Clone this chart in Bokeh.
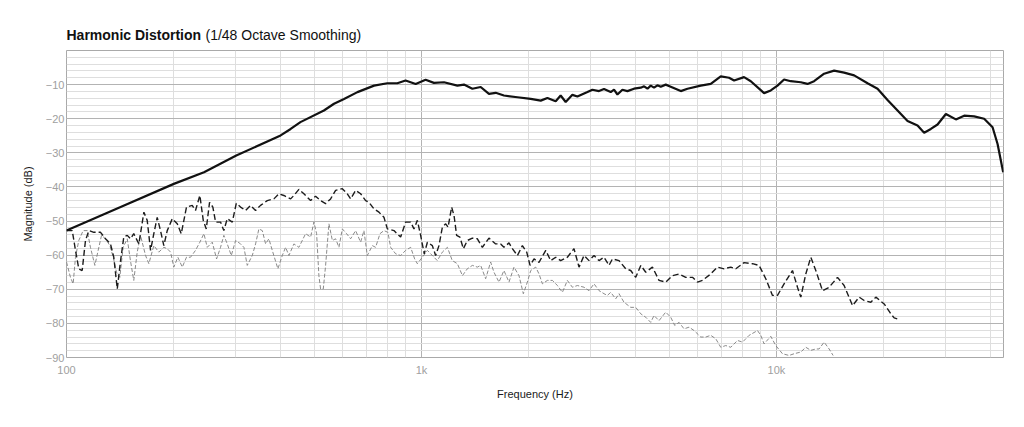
from bokeh.plotting import figure
from bokeh.models import Range1d, FixedTicker, Title
from bokeh.embed import file_html
from bokeh.resources import INLINE

FONT = "Liberation Sans"

# ---- data ----
h1_freq = [100, 141, 200.6, 244, 300.8, 401, 428, 456, 531, 567, 605, 660, 735, 801, 855, 902, 963,
           1027, 1084, 1157, 1262, 1317, 1391, 1468, 1549, 1618, 1707, 1863, 2031, 2167, 2263, 2388,
           2466, 2548, 2661, 2749, 2934, 3030, 3163, 3267, 3412, 3486, 3564, 3681, 3803, 3969, 4147,
           4237, 4331, 4423, 4519, 4619, 4720, 4875, 5036, 5375, 5614, 6118, 6528, 6966, 7353, 7596,
           8103, 8465, 9226, 9636, 10065, 10505, 10970, 11708, 12229, 12762, 13620, 14533, 15508,
           16548, 18052, 19260, 20550, 21928, 23398, 24967, 26057, 27217, 28427, 30003, 32008, 33781,
           36049, 38459, 40616, 41956, 43510]
h1_db = [-52.8, -46, -39.1, -35.7, -30.8, -24.9, -23.0, -21.0, -17.6, -15.6, -14.2, -12.2, -10.3, -9.6,
         -9.6, -8.8, -9.8, -8.6, -9.5, -9.3, -10.3, -10.0, -11.2, -10.7, -12.7, -12.4, -13.2, -13.7,
         -14.2, -14.7, -13.9, -14.9, -13.2, -15.1, -13.0, -13.5, -12.2, -11.5, -11.9, -11.3, -12.2,
         -11.5, -12.9, -11.5, -11.9, -11.2, -10.9, -10.5, -11.2, -10.3, -10.9, -10.2, -10.6, -10.0,
         -10.6, -11.9, -11.2, -10.3, -9.8, -7.6, -8.0, -8.8, -7.8, -9.0, -12.5, -11.7, -10.3, -8.5,
         -9.0, -9.3, -9.8, -9.0, -6.8, -5.9, -6.5, -7.3, -9.6, -11.2, -14.5, -17.6, -20.7, -22.0,
         -24.1, -23.0, -21.7, -18.6, -20.2, -19.1, -19.3, -20.0, -22.5, -27.4, -35.7]

h2_freq = [100, 103.8, 106.0, 108.3, 110.7, 113.1, 115.6, 119.4, 124.7, 128.8,
           133.0, 135.9, 139.0, 142.0, 145.0, 148.3, 151.4, 154.7, 159.9, 165.2,
           168.8, 172.5, 176.2, 180.1, 184.0, 188.0, 192.2, 198.6, 205.1, 210.5,
           217.8, 226.0, 230.9, 237.5, 242.8, 247.6, 252.9, 258.4, 263.0, 271.6,
           277.5, 283.7, 293.1, 300.8, 309.3, 319.5, 330.0, 340.9, 352.1, 367.8,
           383.9, 396.6, 409.6, 427.9, 437.1, 451.5, 466.4, 487.1, 503.1, 519.7,
           536.9, 554.6, 572.9, 598.3, 618.1, 631.5, 652.3, 673.8, 696.1, 711.2,
           734.6, 758.9, 783.9, 801.4, 836.5, 873.5, 902.3, 932.1, 952.3, 973.4,
           994.5, 1018, 1039, 1073, 1096, 1120, 1145, 1170, 1188, 1216,
           1235, 1256, 1283, 1312, 1346, 1391, 1437, 1484, 1549, 1618,
           1671, 1707, 1764, 1803, 1863, 1924, 1979, 2022, 2075, 2143,
           2239, 2312, 2388, 2466, 2576, 2689, 2778, 2870, 2964, 3062,
           3163, 3267, 3375, 3450, 3601, 3761, 3885, 4013, 4147, 4283,
           4472, 4668, 4875, 5092, 5316, 5552, 5799, 5990, 6188, 6528,
           6818, 7119, 7434, 7680, 8103, 8560, 8933, 9329, 9743, 10065,
           10505, 11093, 11459, 11708, 12094, 12493, 12905, 13478, 14070, 14857,
           15508, 16378, 17094, 17659, 18442, 19051, 20106, 20997, 21452, 21928]
h2_db = [-52.8, -52.8, -58.6, -64.0, -64.5, -55.7, -52.8, -53.3, -53.3, -55.2,
         -56.7, -60.6, -69.9, -61.6, -54.7, -54.2, -55.2, -53.7, -56.7, -47.4,
         -49.8, -58.6, -53.7, -48.9, -52.8, -57.2, -52.8, -49.3, -50.8, -53.7,
         -45.9, -45.4, -46.9, -42.5, -49.8, -52.3, -44.5, -45.9, -50.3, -50.3,
         -52.8, -49.3, -50.3, -44.8, -45.9, -46.9, -45.4, -46.9, -45.4, -44.0,
         -43.5, -42.0, -42.5, -43.5, -42.5, -40.7, -42.0, -44.0, -42.7, -44.0,
         -44.9, -43.5, -41.0, -40.5, -42.0, -43.5, -41.0, -42.0, -44.0, -44.5,
         -46.4, -47.4, -48.9, -52.3, -52.8, -54.7, -50.3, -50.3, -52.3, -49.8,
         -54.2, -59.6, -56.2, -57.2, -60.1, -57.2, -51.8, -50.8, -51.8, -45.9,
         -48.4, -54.2, -54.7, -58.1, -55.7, -55.0, -55.2, -57.7, -55.0, -56.7,
         -56.7, -57.7, -56.4, -58.1, -60.1, -57.2, -59.1, -63.0, -61.1, -62.1,
         -58.6, -61.6, -60.6, -61.6, -60.6, -58.1, -63.5, -60.1, -61.6, -60.1,
         -61.6, -60.6, -63.0, -61.1, -61.6, -64.0, -64.5, -66.5, -63.0, -65.0,
         -63.5, -67.4, -67.9, -66.0, -65.5, -66.5, -66.5, -67.9, -67.4, -65.5,
         -63.5, -64.0, -63.5, -64.0, -62.2, -62.5, -63.0, -66.9, -71.8, -71.8,
         -68.4, -64.5, -69.4, -72.3, -65.5, -60.6, -64.5, -70.4, -69.4, -66.5,
         -68.9, -74.8, -72.3, -73.3, -73.8, -72.3, -74.3, -77.2, -78.4, -78.7]

h3_freq = [100, 102.6, 104.4, 106.0, 108.3, 111.4, 114.4, 116.8, 120.2, 122.8,
           125.5, 128.8, 132.5, 135.4, 138.3, 141.3, 144.4, 148.3, 151.4, 154.7,
           158.2, 161.6, 167.0, 170.6, 176.2, 182.0, 188.0, 192.2, 196.4, 200.6,
           205.9, 211.9, 217.8, 223.6, 230.9, 237.5, 243.8, 249.2, 257.4, 264.7,
           271.6, 277.5, 283.7, 291.2, 299.5, 309.3, 316.0, 323.0, 333.7, 340.9,
           348.3, 356.1, 363.8, 371.6, 379.9, 394.0, 405.4, 414.2, 423.2, 437.1,
           451.5, 471.6, 487.1, 497.7, 506.5, 514.0, 519.7, 528.9, 536.9, 548.6,
           560.9, 572.9, 585.4, 598.3, 615.2, 631.5, 652.3, 673.8, 688.4, 703.7,
           727.0, 742.7, 763.9, 783.9, 804.3, 818.7, 845.6, 873.5, 902.3, 932.1,
           956.6, 973.4, 1005.6, 1039, 1073, 1108, 1145, 1183, 1221, 1262,
           1304, 1346, 1391, 1437, 1468, 1516, 1566, 1600, 1653, 1707,
           1764, 1822, 1882, 1936, 1987, 2031, 2098, 2143, 2191, 2263,
           2338, 2415, 2494, 2576, 2661, 2749, 2870, 2964, 3062, 3163,
           3267, 3340, 3412, 3525, 3601, 3719, 3885, 4013, 4147, 4283,
           4423, 4519, 4668, 4875, 5036, 5168, 5316, 5491, 5672, 5860,
           6118, 6321, 6528, 6744, 6966, 7196, 7434, 7766, 8020, 8374,
           8841, 9032, 9226, 9636, 9954, 10397, 10852, 11210, 11708, 12094,
           12493, 12905, 13183, 13620, 14070, 14439]
h3_db = [-62.0, -66.5, -68.4, -60.6, -55.7, -52.8, -52.8, -57.7, -63.0, -58.6,
         -54.2, -55.2, -57.2, -60.6, -65.0, -66.5, -57.7, -55.2, -61.6, -67.4,
         -59.1, -54.2, -60.1, -62.5, -57.2, -59.1, -57.7, -58.1, -59.1, -63.5,
         -60.6, -63.5, -60.6, -60.6, -58.6, -56.2, -53.7, -57.7, -56.2, -61.1,
         -57.7, -54.2, -56.7, -60.1, -55.7, -56.7, -57.7, -63.0, -60.1, -56.7,
         -52.3, -52.8, -56.7, -55.2, -58.6, -64.0, -60.1, -57.7, -60.1, -56.7,
         -57.7, -53.7, -54.7, -50.3, -53.7, -66.0, -69.9, -69.9, -63.0, -50.8,
         -55.7, -55.2, -57.7, -52.3, -53.7, -55.2, -52.8, -56.2, -52.8, -60.1,
         -57.2, -57.7, -53.7, -52.8, -53.3, -57.7, -59.6, -60.1, -58.6, -57.7,
         -61.1, -62.5, -60.6, -58.6, -60.1, -61.6, -59.1, -57.7, -61.6, -62.5,
         -66.0, -64.0, -63.0, -63.5, -63.0, -66.9, -62.0, -65.0, -67.9, -64.5,
         -67.9, -63.5, -66.0, -71.3, -67.9, -64.5, -63.5, -65.5, -68.4, -67.4,
         -67.4, -68.9, -70.9, -67.4, -69.4, -68.9, -69.4, -70.4, -68.4, -70.4,
         -71.3, -71.8, -70.9, -72.8, -71.3, -73.8, -75.3, -75.3, -77.2, -78.2,
         -79.7, -77.7, -79.2, -76.7, -78.2, -80.6, -79.7, -81.6, -81.1, -82.1,
         -84.0, -84.0, -83.5, -84.5, -87.0, -86.5, -87.0, -85.0, -85.5, -83.5,
         -82.1, -83.5, -86.0, -83.8, -86.5, -88.9, -89.4, -88.9, -88.4, -87.0,
         -87.9, -87.5, -87.5, -85.5, -87.5, -89.4]

x_ticks = [100, 1000, 10000]
x_tick_labels = ["100", "1k", "10k"]
x_minor = [200, 300, 400, 500, 600, 700, 800, 900,
           2000, 3000, 4000, 5000, 6000, 7000, 8000, 9000,
           20000, 30000, 40000]
x_limits = [100, 43600]
y_ticks = [-90, -80, -70, -60, -50, -40, -30, -20, -10]
y_minor = [v for v in range(-90, 1, 2)]
y_limits = [-90, 0]

title_main = "Harmonic Distortion"
title_sub = "(1/48 Octave Smoothing)"
x_label = "Frequency (Hz)"
y_label = "Magnitude (dB)"


def pairs(xs, ys):
    n = min(len(xs), len(ys))
    return list(xs[:n]), list(ys[:n])


p = figure(width=1008, height=411, x_axis_type="log",
           x_range=Range1d(*x_limits), y_range=Range1d(*y_limits),
           output_backend="svg", toolbar_location=None, title=title_main,
           min_border_left=66, min_border_right=5, min_border_top=50, min_border_bottom=54)

# main title (outer slot) pulled down onto the same line as the subtitle
p.title.align = "left"
p.title.offset = 0
p.title.standoff = -51
p.title.text_font = FONT
p.title.text_font_size = "14px"
p.title.text_font_style = "bold"
p.title.text_color = "#111111"

# subtitle (inner slot), to the right of the main title
p.add_layout(Title(text=title_sub, align="left", offset=139, standoff=15,
                   text_font=FONT, text_font_size="14px", text_font_style="normal",
                   text_color="#111111"), "above")

p.background_fill_color = "white"
p.border_fill_color = "white"
p.outline_line_color = "#a9a9a9"
p.outline_line_width = 1

p.xaxis.ticker = FixedTicker(ticks=x_ticks, minor_ticks=x_minor)
p.xaxis.major_label_overrides = {t: l for t, l in zip(x_ticks, x_tick_labels)}
p.yaxis.ticker = FixedTicker(ticks=y_ticks, minor_ticks=y_minor)

for ax in (p.xaxis[0], p.yaxis[0]):
    ax.axis_line_color = None
    ax.major_tick_line_color = None
    ax.minor_tick_line_color = None
    ax.major_tick_out = 0
    ax.major_tick_in = 0
    ax.minor_tick_out = 0
    ax.minor_tick_in = 0
    ax.major_label_text_font = FONT
    ax.major_label_text_font_size = "11px"
    ax.major_label_text_color = "#a0a0a0"
    ax.axis_label_text_font = FONT
    ax.axis_label_text_font_size = "11px"
    ax.axis_label_text_font_style = "normal"
    ax.axis_label_text_color = "#1a1a1a"

p.xaxis.axis_label = x_label
p.yaxis.axis_label = y_label
p.xaxis.major_label_standoff = 6
p.xaxis.axis_label_standoff = 9
p.yaxis.major_label_standoff = 2
p.yaxis.axis_label_standoff = 9

p.xgrid.grid_line_color = "#b3b3b3"
p.xgrid.minor_grid_line_color = "#dedede"
p.ygrid.grid_line_color = "#b3b3b3"
p.ygrid.minor_grid_line_color = "#dedede"

fx, fy = pairs(h3_freq, h3_db)
p.line(fx, fy, line_color="#7d7d7d", line_width=0.9, line_dash="4 2")
fx, fy = pairs(h2_freq, h2_db)
p.line(fx, fy, line_color="#1c1c1c", line_width=1.4, line_dash="6 3")
fx, fy = pairs(h1_freq, h1_db)
p.line(fx, fy, line_color="#111111", line_width=2.2)

open("out.html", "w").write(file_html(p, INLINE))
